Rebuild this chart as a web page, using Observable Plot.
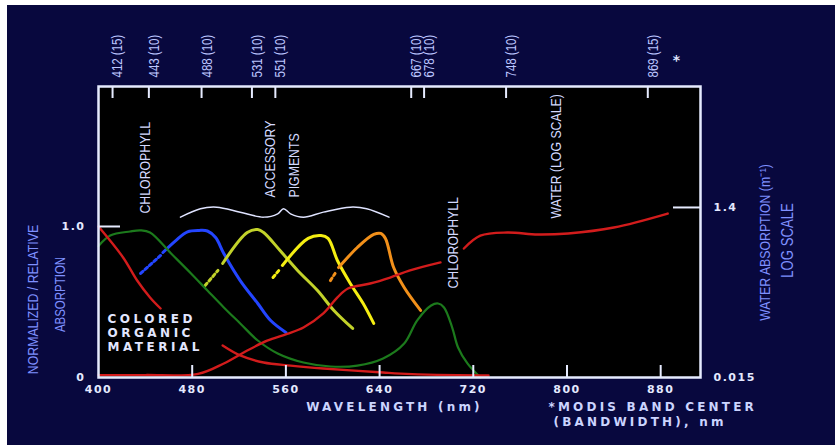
<!DOCTYPE html>
<html><head><meta charset="utf-8">
<script src="https://cdn.jsdelivr.net/npm/d3@7"></script>
<script src="https://cdn.jsdelivr.net/npm/@observablehq/plot@0.6"></script>
<style>
html,body{margin:0;padding:0;background:#fff;width:835px;height:445px;overflow:hidden}
#chart{position:absolute;left:7px;top:5px;}
g[aria-label="x-axis tick label"] text, g[aria-label="y-axis tick label"] text{letter-spacing:1.5px}
g[aria-description="wide"] text{letter-spacing:3.5px}
g[aria-description="wide2"] text{letter-spacing:3.2px}
</style></head><body><div id="chart"></div>
<script>
// ---- axis / tick data ----
const wavelengthTicks = [400, 480, 560, 640, 720, 800, 880];
const innerTicks = [480, 560, 640, 720, 800, 880];
const bandCenters = [412, 443, 488, 531, 551, 667, 678, 748, 869];
const bandWidths = [15, 10, 10, 10, 10, 10, 10, 10, 15];
const leftTickValues = [0, 1];
const leftTickLabels = ["0", "1.0"];
const waterTickValues = [0.015, 1.4];
const waterTickLabels = ["0.015", "1.4"];

// ---- series (wavelength nm, normalized absorption) ----
const cdomWl  = [400, 421, 433, 444, 453, 480, 506, 521, 541, 564, 592, 643, 658, 726, 733];
const cdomVal = [1.0, 0.795, 0.642, 0.530, 0.457, null, 0.212, 0.146, 0.099, 0.079, 0.060, 0.033, 0.026, 0.013, 0.013];

const chlWl  = [400, 410, 427, 436, 444, 462, 479, 493, 507, 521, 536, 553, 575, 598, 621, 643, 661, 672, 684, 690, 695, 702, 707, 715, 726];
const chlVal = [0.87, 0.94, 0.967, 0.974, 0.96, 0.821, 0.689, 0.576, 0.464, 0.358, 0.245, 0.159, 0.099, 0.073, 0.079, 0.126, 0.225, 0.377, 0.477, 0.49, 0.464, 0.331, 0.199, 0.093, 0.0];

const blueDashWl = [436, 453], blueDashVal = [0.689, 0.808];
const blueWl  = [455, 466, 476, 486, 493, 500, 507, 521, 536, 547, 560];
const blueVal = [0.828, 0.907, 0.965, 0.974, 0.97, 0.927, 0.821, 0.642, 0.490, 0.377, 0.298];

const ygDashWl = [491, 502], ygDashVal = [0.609, 0.709];
const ygWl  = [506, 527, 536, 541, 555, 570, 587, 601, 617];
const ygVal = [0.755, 0.96, 0.98, 0.96, 0.841, 0.709, 0.576, 0.444, 0.325];

const yelDashWl = [549, 554], yelDashVal = [0.662, 0.709];
const yelWl  = [557, 579, 590, 596, 604, 615, 626, 635];
const yelVal = [0.742, 0.921, 0.94, 0.921, 0.775, 0.623, 0.49, 0.358];

const orDashWl = [598, 602], orDashVal = [0.642, 0.689];
const orWl  = [605, 621, 635, 641, 645, 652, 661, 675];
const orVal = [0.728, 0.861, 0.947, 0.954, 0.921, 0.728, 0.596, 0.444];

// water absorption, m^-1 (log scale on right axis)
const waterWl  = [400, 440, 485, 507, 527, 544, 561, 575, 592, 604, 613, 632, 649, 666, 692, 702, 712, 726, 749, 775, 801, 840, 886];
const waterVal = [0.016, 0.016, 0.0165, 0.0218, 0.0308, 0.040, 0.048, 0.057, 0.083, 0.127, 0.161, 0.184, 0.216, 0.261, 0.323, null, 0.468, 0.66, 0.717, 0.68, 0.70, 0.82, 1.19];

// curly brace over accessory pigments
const braceWl  = [470, 487, 501, 521, 541, 553, 558, 564, 575, 592, 615, 629, 648];
const braceVal = [1.062, 1.118, 1.128, 1.095, 1.062, 1.084, 1.118, 1.084, 1.062, 1.095, 1.128, 1.118, 1.062];

// in-plot labels
const annoText = ["CHLOROPHYLL", "ACCESSORY", "PIGMENTS", "CHLOROPHYLL", "WATER (LOG SCALE)"];
const annoWl   = [440, 547, 567, 703, 791];
const annoVal  = [1.086, 1.192, 1.192, 0.589, 1.053];

// ---- helpers ----
const WATER_TOP = 1.126; // left-scale position of the 1.4 m^-1 tick
const wy = v => v == null ? null : WATER_TOP * Math.log(v / 0.015) / Math.log(1.4 / 0.015);
const rows = (wl, val, f = d => d) => wl.map((w, i) => ({w, v: val[i] == null ? null : f(val[i])}));
const rightTicks = waterTickValues.map(wy);

const narrow = "'Liberation Sans', Arial, sans-serif";
const bold = "'DejaVu Sans', sans-serif";
const labelCol = "#d4daff", tickCol = "#e4e9ff", titleCol = "#7f90ff", frameCol = "#e6ebff", capCol = "#cbd4ff";

const solid = (wl, val, color, sw) => Plot.line(rows(wl, val), {x: "w", y: "v", stroke: color, strokeWidth: sw, curve: "catmull-rom"});
const dashed = (wl, val, color) => Plot.line(rows(wl, val), {x: "w", y: "v", stroke: color, strokeWidth: 3, strokeDasharray: "3,3"});

const chart = Plot.plot({
  width: 828, height: 440,
  marginLeft: 91, marginRight: 135, marginTop: 81, marginBottom: 68,
  x: {domain: [400, 914], axis: null},
  y: {domain: [0, 1.927], axis: null},
  style: {background: "#08083e", color: tickCol, fontFamily: bold, overflow: "visible"},
  marks: [
    Plot.frame({fill: "black", stroke: "none"}),
    // brace
    Plot.line(rows(braceWl, braceVal), {x: "w", y: "v", stroke: "#dfe3ff", strokeWidth: 1.5, curve: "catmull-rom"}),
    // pigments
    dashed(blueDashWl, blueDashVal, "#2345ff"), solid(blueWl, blueVal, "#2345ff", 3),
    dashed(ygDashWl, ygDashVal, "#c2d22a"), solid(ygWl, ygVal, "#c2d22a", 3),
    dashed(yelDashWl, yelDashVal, "#f5ee12"), solid(yelWl, yelVal, "#f5ee12", 3),
    dashed(orDashWl, orDashVal, "#f2901a"), solid(orWl, orVal, "#f2901a", 3),
    // chlorophyll, CDOM, water
    solid(chlWl, chlVal, "#1c7a1c", 2.2),
    solid(cdomWl, cdomVal, "#d21c1c", 2.4),
    Plot.line(rows(waterWl, waterVal, wy), {x: "w", y: "v", stroke: "#d21c1c", strokeWidth: 2.4, curve: "catmull-rom"}),
    // in-plot labels
    Plot.text(annoText, {x: (d, i) => annoWl[i], y: (d, i) => annoVal[i], text: d => d, rotate: -90, textAnchor: "start",
      fontFamily: narrow, fontSize: 15, fill: labelCol, ariaDescription: "narrow"}),
    Plot.text(["COLORED\nORGANIC\nMATERIAL"], {x: [407.7], y: [0.298], text: d => d, textAnchor: "start", lineHeight: 1.19,
      fontFamily: bold, fontWeight: "bold", fontSize: 12, fill: "#e2e6ff", ariaDescription: "wide"}),
    // frame
    Plot.frame({stroke: frameCol, strokeWidth: 2.5}),
    // bottom axis
    Plot.axisX({anchor: "bottom", ticks: innerTicks, tickSize: -12, fill: "none", stroke: frameCol, strokeWidth: 2, label: null}),
    Plot.axisX({anchor: "bottom", ticks: wavelengthTicks, tickSize: 0, tickPadding: 8, fontSize: 11, fontWeight: "bold", fill: tickCol, label: null}),
    // top MODIS axis
    Plot.axisX({anchor: "top", ticks: bandCenters, tickSize: -11, fill: "none", stroke: frameCol, strokeWidth: 2, label: null}),
    Plot.text(bandCenters, {x: d => d, text: (d, i) => `${d} (${bandWidths[i]})`, frameAnchor: "top", rotate: -90, textAnchor: "start",
      dy: -9, fontFamily: narrow, fontSize: 14, fill: "#bcc6ff", ariaDescription: "narrow"}),
    Plot.text(["*"], {frameAnchor: "top-right", textAnchor: "middle", dx: -24, dy: -31, fontSize: 14, fontWeight: "bold", fill: "#dfe4ff"}),
    // left axis
    Plot.axisY({anchor: "left", ticks: [1], tickSize: -22, fill: "none", stroke: frameCol, strokeWidth: 2, label: null}),
    Plot.axisY({anchor: "left", ticks: leftTickValues, tickFormat: d => leftTickLabels[leftTickValues.indexOf(d)], tickSize: 0, tickPadding: 13,
      fontSize: 11, fontWeight: "bold", fill: tickCol, label: null}),
    // right (water) axis
    Plot.axisY({anchor: "right", ticks: [rightTicks[1]], tickSize: -28, fill: "none", stroke: frameCol, strokeWidth: 2, label: null}),
    Plot.axisY({anchor: "right", ticks: rightTicks, tickFormat: d => waterTickLabels[rightTicks.indexOf(d)], tickSize: 0, tickPadding: 13,
      fontSize: 11, fontWeight: "bold", fill: tickCol, label: null}),
    // axis titles
    Plot.text(["NORMALIZED / RELATIVE"], {frameAnchor: "left", textAnchor: "middle", rotate: -90, dx: -65, dy: 67.5,
      fontFamily: narrow, fontSize: 15, fill: titleCol, ariaDescription: "narrow"}),
    Plot.text(["ABSORPTION"], {frameAnchor: "left", textAnchor: "middle", rotate: -90, dx: -38, dy: 62.5,
      fontFamily: narrow, fontSize: 14, fill: titleCol, ariaDescription: "narrow"}),
    Plot.text(["WATER ABSORPTION (m⁻¹)"], {frameAnchor: "right", textAnchor: "middle", rotate: -90, dx: 65, dy: 10.5,
      fontFamily: narrow, fontSize: 15, fill: titleCol, ariaDescription: "narrow"}),
    Plot.text(["LOG SCALE"], {frameAnchor: "right", textAnchor: "middle", rotate: -90, dx: 87, dy: 8.5,
      fontFamily: narrow, fontSize: 16, fill: titleCol, ariaDescription: "narrow"}),
    Plot.text(["WAVELENGTH (nm)"], {frameAnchor: "bottom", textAnchor: "middle", dx: -5, dy: 33,
      fontSize: 12, fontWeight: "bold", fill: capCol, ariaDescription: "wide2"}),
    Plot.text(["*MODIS BAND CENTER"], {frameAnchor: "bottom-right", textAnchor: "start", dx: -152, dy: 33,
      fontSize: 12, fontWeight: "bold", fill: capCol, ariaDescription: "wide2"}),
    Plot.text(["(BANDWIDTH), nm"], {frameAnchor: "bottom-right", textAnchor: "start", dx: -147, dy: 48,
      fontSize: 12, fontWeight: "bold", fill: capCol, ariaDescription: "wide2"})
  ]
});
// condense the narrow (Helvetica Narrow-like) labels
chart.querySelectorAll('g[aria-description="narrow"] text').forEach(t => {
  const tr = t.getAttribute("transform") || "";
  t.setAttribute("transform", tr + " scale(0.82,1)");
});
document.getElementById("chart").appendChild(chart);
</script></body></html>
